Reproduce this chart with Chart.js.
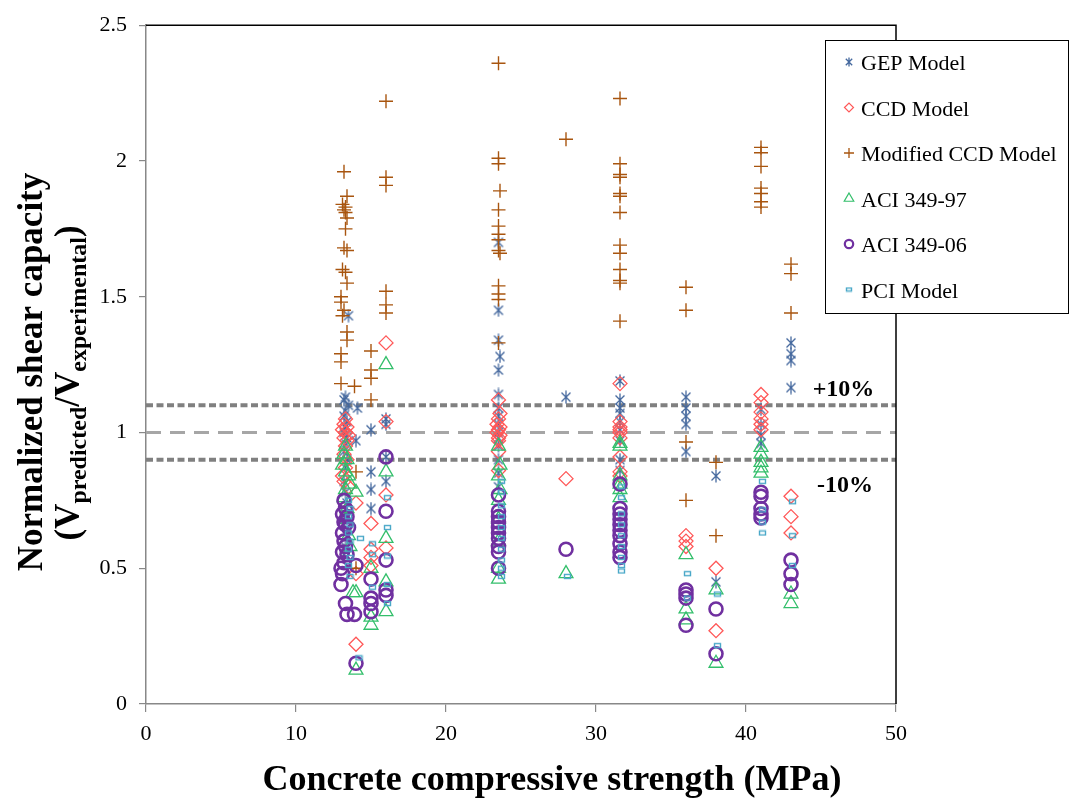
<!DOCTYPE html>
<html>
<head>
<meta charset="utf-8">
<script src="https://cdn.jsdelivr.net/npm/chart.js@4.4.0/dist/chart.umd.min.js"></script>
<style>
  html, body { margin: 0; padding: 0; background: #fff; }
  #wrap { width: 1070px; height: 803px; }
</style>
</head>
<body>
<div id="wrap"><canvas id="myChart" width="1070" height="803"></canvas></div>
<script>
/**
 * Data: [compressive strength (MPa), V_predicted / V_experimental]
 */
var seriesLabels = ['GEP Model', 'CCD Model', 'Modified CCD Model', 'ACI 349-97', 'ACI 349-06', 'PCI Model'];
var xTicks = [0, 10, 20, 30, 40, 50];
var yTicks = [0, 0.5, 1, 1.5, 2, 2.5];
var refLevels = [1.1, 1.0, 0.9];
var refLabels = ['+10%', '-10%'];

var gepModel = [
  [13.3,1.13],[13.2,1.12],[13.5,1.10],[13.3,1.08],[13.2,1.06],[13.4,1.04],[13.3,1.02],[13.2,1.00],
  [13.4,0.98],[13.3,0.96],[13.2,0.93],[13.4,0.90],[13.3,0.87],[13.2,0.82],[13.3,0.78],[13.4,0.74],
  [13.3,0.70],[13.2,0.66],[13.4,0.62],[13.3,0.58],[13.2,0.55],[13.5,1.43],[14.1,1.09],[14.0,0.97],
  [15,1.01],[15,0.855],[15,0.79],[15,0.72],[16,1.05],[16,1.03],[16,0.91],[16,0.82],
  [23.5,1.70],[23.5,1.45],[23.5,1.34],[23.6,1.28],[23.5,1.23],[23.5,1.14],[23.5,1.09],[23.5,1.06],
  [23.5,1.03],[23.5,1.00],[23.5,0.98],[23.5,0.95],[23.5,0.90],[23.5,0.85],[23.5,0.80],
  [28,1.13],
  [31.6,1.19],[31.6,1.12],[31.6,1.09],[31.6,1.07],[31.6,1.04],[31.6,1.01],[31.6,0.97],[31.6,0.90],[31.6,0.86],
  [36,1.13],[36,1.09],[36,1.06],[36,1.03],[36,0.93],
  [38,0.84],[38,0.45],
  [41,1.085],[41,1.03],[41,0.99],[41,0.96],
  [43,1.33],[43,1.29],[43,1.265],[43,1.165]
];
var ccdModel = [
  [13.3,1.05],[13.2,1.03],[13.4,1.02],[13.1,1.01],[13.3,1.00],[13.5,0.99],[13.2,0.98],[13.4,0.97],
  [13.3,0.95],[13.2,0.92],[13.4,0.90],[13.3,0.87],[13.1,0.84],[13.2,0.82],[13.5,0.80],
  [14,0.74],[14,0.48],[14,0.22],
  [15,0.665],[15,0.57],[15,0.54],[15,0.51],
  [16,1.33],[16,1.04],[16,0.77],[16,0.575],
  [23.5,1.12],[23.6,1.07],[23.5,1.05],[23.4,1.03],[23.6,1.02],[23.5,1.01],[23.4,1.00],[23.6,0.99],
  [23.5,0.98],[23.5,0.97],[23.5,0.93],[23.5,0.86],
  [28,0.83],
  [31.6,1.18],[31.6,1.04],[31.6,1.02],[31.6,1.01],[31.6,1.00],[31.6,0.98],[31.6,0.91],[31.6,0.855],[31.6,0.84],
  [36,0.62],[36,0.60],[36,0.58],
  [38,0.50],[38,0.27],
  [41,1.14],[41,1.11],[41,1.075],[41,1.05],[41,1.03],[41,1.01],
  [43,0.765],[43,0.69],[43,0.63]
];
var modCcdModel = [
  [13.2,1.96],[13.4,1.87],[13.1,1.84],[13.3,1.83],[13.2,1.82],[13.3,1.81],[13.4,1.79],[13.3,1.75],
  [13.2,1.68],[13.4,1.67],[13.1,1.60],[13.3,1.59],[13.4,1.55],[13.0,1.50],[13.0,1.48],[13.2,1.45],
  [13.1,1.43],[13.4,1.37],[13.4,1.34],[13.0,1.29],[13.0,1.26],[13.0,1.18],[13.9,1.17],[14.0,0.855],[14.0,0.50],
  [15,1.30],[15,1.23],[15,1.20],[15,1.12],
  [16,2.22],[16,1.94],[16,1.91],[16,1.52],[16,1.47],[16,1.44],
  [23.5,2.36],[23.5,2.01],[23.5,1.99],[23.6,1.89],[23.5,1.82],[23.5,1.76],[23.5,1.73],[23.5,1.71],
  [23.5,1.67],[23.6,1.66],[23.5,1.54],[23.5,1.51],[23.5,1.49],[23.5,1.33],
  [28,2.08],
  [31.6,2.23],[31.6,1.99],[31.6,1.95],[31.6,1.94],[31.6,1.88],[31.6,1.87],[31.6,1.81],[31.6,1.69],
  [31.6,1.66],[31.6,1.60],[31.6,1.56],[31.6,1.55],[31.6,1.41],
  [36,1.535],[36,1.45],[36,0.965],[36,0.75],
  [38,0.89],[38,0.62],
  [41,2.05],[41,2.03],[41,1.98],[41,1.90],[41,1.88],[41,1.85],[41,1.83],
  [43,1.62],[43,1.585],[43,1.44]
];
var aci97 = [
  [13.3,0.95],[13.2,0.92],[13.4,0.90],[13.1,0.88],[13.3,0.855],[13.5,0.84],[13.6,0.81],[13.3,0.79],
  [13.2,0.76],[13.4,0.72],[13.3,0.68],[13.5,0.62],[13.6,0.58],[13.8,0.41],
  [14,0.78],[14,0.41],[14,0.125],
  [15,0.50],[15,0.32],[15,0.29],
  [16,1.25],[16,0.855],[16,0.61],[16,0.45],[16,0.34],
  [23.5,0.95],[23.6,0.88],[23.5,0.84],[23.6,0.79],[23.5,0.75],[23.5,0.68],[23.5,0.60],[23.5,0.50],[23.5,0.46],
  [28,0.48],
  [31.6,0.96],[31.6,0.95],[31.6,0.84],[31.6,0.81],[31.6,0.79],[31.6,0.76],
  [36,0.55],[36,0.35],[36,0.31],
  [38,0.42],[38,0.15],
  [41,0.945],[41,0.92],[41,0.89],[41,0.87],[41,0.85],
  [43,0.405],[43,0.37]
];
var aci06 = [
  [13.2,0.75],[13.3,0.72],[13.1,0.70],[13.4,0.69],[13.2,0.67],[13.3,0.66],[13.5,0.65],[13.1,0.63],
  [13.2,0.60],[13.3,0.58],[13.1,0.56],[13.4,0.55],[13.2,0.52],[13.0,0.50],[13.1,0.48],[13.0,0.44],
  [13.3,0.37],[13.4,0.33],[13.9,0.33],[14,0.51],[14,0.15],
  [15,0.46],[15,0.39],[15,0.37],[15,0.34],
  [16,0.91],[16,0.71],[16,0.53],[16,0.42],[16,0.40],
  [23.5,0.77],[23.5,0.71],[23.5,0.69],[23.5,0.67],[23.5,0.65],[23.5,0.63],[23.5,0.61],[23.5,0.58],[23.5,0.56],[23.5,0.50],
  [28,0.57],
  [31.6,0.81],[31.6,0.72],[31.6,0.70],[31.6,0.68],[31.6,0.66],[31.6,0.64],[31.6,0.62],[31.6,0.59],[31.6,0.56],[31.6,0.54],
  [36,0.42],[36,0.405],[36,0.39],[36,0.29],
  [38,0.35],[38,0.185],
  [41,0.78],[41,0.765],[41,0.72],[41,0.70],[41,0.685],
  [43,0.53],[43,0.48],[43,0.44]
];
var pciModel = [
  [13.5,0.75],[13.6,0.72],[13.5,0.69],[13.6,0.66],[13.5,0.63],[13.6,0.60],[13.5,0.57],[13.6,0.54],
  [13.5,0.51],[13.6,0.47],[14.3,0.61],[14.2,0.17],
  [15.1,0.59],[15.1,0.55],[15.1,0.43],
  [16.1,0.76],[16.1,0.65],[16.1,0.545],[16.1,0.44],[16.1,0.37],
  [23.7,0.82],[23.7,0.78],[23.7,0.73],[23.7,0.69],[23.7,0.65],[23.7,0.61],[23.7,0.57],[23.7,0.53],[23.7,0.50],[23.7,0.47],
  [28.1,0.47],
  [31.7,0.80],[31.7,0.76],[31.7,0.70],[31.7,0.66],[31.7,0.62],[31.7,0.58],[31.7,0.54],[31.7,0.51],[31.7,0.49],
  [36.1,0.48],[36.1,0.39],
  [38.1,0.405],[38.1,0.215],
  [41.1,0.82],[41.1,0.715],[41.1,0.67],[41.1,0.63],
  [43.1,0.745],[43.1,0.62],[43.1,0.51]
];

var serifFont = "'Liberation Serif', 'Times New Roman', serif";

function toPoints(arr) {
  return arr.map(function (p) { return { x: p[0], y: p[1] }; });
}

// Excel-like star marker (X with a vertical bar)
function makeStar(color, s) {
  var c = document.createElement('canvas');
  c.width = s; c.height = s;
  var g = c.getContext('2d');
  var m = s / 2, d = s * 0.32;
  g.strokeStyle = color;
  g.lineWidth = 1.3;
  g.beginPath();
  g.moveTo(m - d, m - d); g.lineTo(m + d, m + d);
  g.moveTo(m + d, m - d); g.lineTo(m - d, m + d);
  g.moveTo(m, 0.5); g.lineTo(m, s - 0.5);
  g.stroke();
  return c;
}

// small hollow dash for PCI
function makeDash(color, w, h) {
  var c = document.createElement('canvas');
  c.width = w + 2; c.height = h + 2;
  var g = c.getContext('2d');
  g.strokeStyle = color;
  g.lineWidth = 1.4;
  g.strokeRect(1.5, 1.5, w - 1, h - 1);
  return c;
}

var colors = ['#44689e', '#ff5858', '#a8550f', '#33bf6b', '#7030a0', '#4aa8c8'];
var starImg = makeStar(colors[0], 14);
var dashImg = makeDash(colors[5], 7, 5);
var starSmall = makeStar(colors[0], 10);
var dashSmall = makeDash(colors[5], 6, 4);

var markers = [
  { style: starImg, r: 6, w: 1 },
  { style: 'rectRot', r: 7, w: 1.3 },
  { style: 'cross', r: 7, w: 1.4 },
  { style: 'triangle', r: 8, w: 1.3 },
  { style: 'circle', r: 6.5, w: 2.6 },
  { style: dashImg, r: 4, w: 1 }
];
var legendMarkers = [
  { style: starSmall, r: 5, w: 1 },
  { style: 'rectRot', r: 4.5, w: 1.2 },
  { style: 'cross', r: 5, w: 1.3 },
  { style: 'triangle', r: 5.5, w: 1.2 },
  { style: 'circle', r: 4.2, w: 2.2 },
  { style: dashSmall, r: 3, w: 1 }
];
var seriesData = [gepModel, ccdModel, modCcdModel, aci97, aci06, pciModel];

var datasets = seriesData.map(function (arr, i) {
  return {
    label: seriesLabels[i],
    data: toPoints(arr),
    pointStyle: markers[i].style,
    pointRadius: markers[i].r,
    pointBorderWidth: markers[i].w,
    borderColor: colors[i],
    backgroundColor: 'rgba(0,0,0,0)',
    order: 6 - i
  };
});

// reference lines +10%, 0, -10%
refLevels.forEach(function (lv, i) {
  var mid = (i === 1);
  datasets.push({
    label: 'ref' + i,
    type: 'line',
    data: [{ x: xTicks[0], y: lv }, { x: xTicks[xTicks.length - 1], y: lv }],
    showLine: true,
    borderColor: mid ? '#a6a6a6' : '#808080',
    borderWidth: mid ? 3 : 4,
    borderDash: mid ? [15, 9] : [7, 3.5],
    pointRadius: 0,
    fill: false,
    order: 10
  });
});

const decorPlugin = {
  id: 'decor',
  afterDraw(chart) {
    const ctx = chart.ctx;
    const a = chart.chartArea;
    const xs = chart.scales.x, ys = chart.scales.y;
    ctx.save();

    // top / right frame
    ctx.strokeStyle = '#000';
    ctx.lineWidth = 1.5;
    ctx.beginPath();
    ctx.moveTo(a.left, a.top);
    ctx.lineTo(a.right, a.top);
    ctx.lineTo(a.right, a.bottom);
    ctx.stroke();

    // +10% / -10% labels
    ctx.fillStyle = '#000';
    ctx.font = 'bold 24px ' + serifFont;
    ctx.textAlign = 'center';
    ctx.textBaseline = 'alphabetic';
    ctx.fillText(refLabels[0], xs.getPixelForValue(46.5), ys.getPixelForValue(refLevels[0]) - 9);
    ctx.fillText(refLabels[1], xs.getPixelForValue(46.6), ys.getPixelForValue(refLevels[2]) + 32);

    // x axis title
    ctx.font = 'bold 36px ' + serifFont;
    ctx.fillText('Concrete compressive strength (MPa)', 552, 790);

    // y axis title (two lines, second one with subscripts)
    ctx.save();
    ctx.rotate(-Math.PI / 2);
    ctx.textAlign = 'center';
    ctx.font = 'bold 35px ' + serifFont;
    ctx.fillText('Normalized shear capacity', -372, 42);

    var big = 'bold 35px ' + serifFont, small = 'bold 24px ' + serifFont;
    var parts = [['(V', big, 0], ['predicted', small, 7], ['/V', big, 0], ['experimental', small, 7], [')', big, 0]];
    var total = 0;
    parts.forEach(function (p) { ctx.font = p[1]; total += ctx.measureText(p[0]).width; });
    var pos = -383 - total / 2;
    ctx.textAlign = 'left';
    parts.forEach(function (p) {
      ctx.font = p[1];
      ctx.fillText(p[0], pos, 79 + p[2]);
      pos += ctx.measureText(p[0]).width;
    });
    ctx.restore();

    // legend box
    ctx.fillStyle = '#fff';
    ctx.fillRect(825.5, 40.5, 243, 273);
    ctx.strokeStyle = '#000';
    ctx.lineWidth = 1;
    ctx.strokeRect(825.5, 40.5, 243, 273);
    ctx.font = '22px ' + serifFont;
    ctx.textAlign = 'left';
    ctx.textBaseline = 'alphabetic';
    seriesLabels.forEach(function (lab, i) {
      var by = 70 + i * 45.5;
      var m = legendMarkers[i];
      ctx.strokeStyle = colors[i];
      ctx.fillStyle = 'rgba(0,0,0,0)';
      ctx.lineWidth = m.w;
      Chart.helpers.drawPoint(ctx, { pointStyle: m.style, radius: m.r, rotation: 0, borderWidth: m.w }, 849, by - 8);
      ctx.fillStyle = '#000';
      ctx.fillText(lab, 861, by);
    });

    ctx.restore();
  }
};

document.addEventListener('DOMContentLoaded', (event) => {
  myChart = new Chart(document.getElementById('myChart'), {
    type: 'scatter',
    data: { datasets: datasets },
    options: {
      responsive: false,
      animation: false,
      layout: { padding: { left: 0, right: 174, top: 20, bottom: 0 } },
      plugins: {
        legend: { display: false },
        tooltip: { enabled: false }
      },
      scales: {
        x: {
          type: 'linear',
          min: xTicks[0],
          max: xTicks[xTicks.length - 1],
          afterFit: function (s) { s.height = 99; },
          afterBuildTicks: function (s) { s.ticks = xTicks.map(function (v) { return { value: v }; }); },
          ticks: { color: '#000', font: { family: serifFont, size: 22 }, padding: 9,
                   callback: function (v) { return String(v); } },
          grid: { drawOnChartArea: false, tickLength: 8, color: '#888', lineWidth: 1.2 },
          border: { color: '#888', width: 1.5 }
        },
        y: {
          type: 'linear',
          min: yTicks[0],
          max: yTicks[yTicks.length - 1],
          afterFit: function (s) { s.width = 146; },
          afterBuildTicks: function (s) { s.ticks = yTicks.map(function (v) { return { value: v }; }); },
          ticks: { color: '#000', font: { family: serifFont, size: 22 }, padding: 12,
                   callback: function (v) { return String(v); } },
          grid: { drawOnChartArea: false, tickLength: 7, color: '#888', lineWidth: 1.2 },
          border: { color: '#888', width: 1.5 }
        }
      }
    },
    plugins: [decorPlugin]
  });
});
</script>
</body>
</html>
